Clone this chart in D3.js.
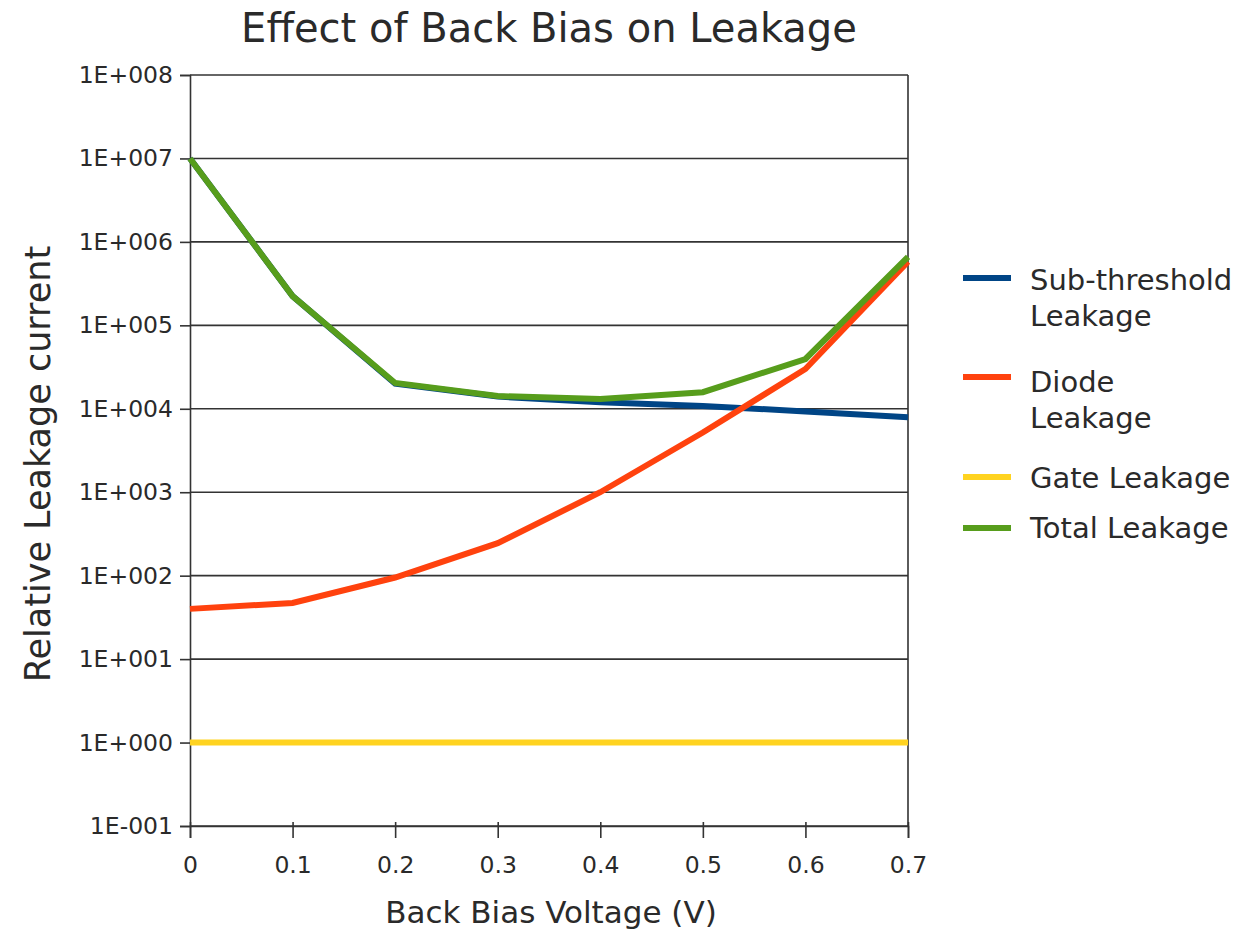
<!DOCTYPE html>
<html><head><meta charset="utf-8">
<script src="https://cdn.jsdelivr.net/npm/d3@7/dist/d3.min.js"></script>
<style>body{margin:0;background:#fff}svg{display:block;font-family:"DejaVu Sans",Verdana,sans-serif}</style>
</head><body>
<svg id="c" width="1245" height="939"></svg>
<script>
const voltages = [0, 0.1, 0.2, 0.3, 0.4, 0.5, 0.6, 0.7];
const subThreshold = [1e7, 2.24e5, 2.0e4, 1.4e4, 1.2e4, 1.08e4, 9.3e3, 7.9e3];
const diode = [40, 47, 95, 245, 1.0e3, 5.2e3, 3.0e4, 5.8e5];
const gate = [1, 1, 1, 1, 1, 1, 1, 1];
const total = [1e7, 2.24e5, 2.04e4, 1.42e4, 1.31e4, 1.58e4, 3.95e4, 6.6e5];
const seriesNames = ["Sub-threshold Leakage", "Diode Leakage", "Gate Leakage", "Total Leakage"];
const yTickValues = [1e-1, 1e0, 1e1, 1e2, 1e3, 1e4, 1e5, 1e6, 1e7, 1e8];
const yTickLabels = ["1E-001","1E+000","1E+001","1E+002","1E+003","1E+004","1E+005","1E+006","1E+007","1E+008"];
const xTickLabels = ["0","0.1","0.2","0.3","0.4","0.5","0.6","0.7"];

const colors = ["#004586", "#ff420e", "#ffd320", "#579d1c"];
const seriesData = [subThreshold, diode, gate, total];

const svg = d3.select("#c");
const L = 190, R = 908, T = 75, B = 826;
const x = d3.scaleLinear().domain([0, 0.7]).range([L, R]);
const y = d3.scaleLog().domain([1e-1, 1e8]).range([B, T]);
const ink = "#2a2a2a";

// gridlines
svg.append("g").selectAll("line").data(yTickValues).join("line")
  .attr("x1", L).attr("x2", R).attr("y1", d => y(d)).attr("y2", d => y(d))
  .attr("stroke", "#333").attr("stroke-width", 1.6);

// right border
svg.append("line").attr("x1", R).attr("x2", R).attr("y1", T).attr("y2", B)
  .attr("stroke", "#333").attr("stroke-width", 1.6);

// y axis
const yAxis = d3.axisLeft(y).tickValues(yTickValues)
  .tickFormat((d, i) => yTickLabels[i]).tickSize(10).tickPadding(7);
const gy = svg.append("g").attr("transform", `translate(${L},0)`).call(yAxis);
gy.attr("font-size", null).attr("font-family", null);
gy.select(".domain").attr("stroke", "#333").attr("stroke-width", 1.6);
gy.selectAll(".tick line").attr("stroke", "#333").attr("stroke-width", 1.6);
gy.selectAll("text").style("font-size", "23.5px").attr("fill", ink);

// x axis
const xAxis = d3.axisBottom(x).tickValues(voltages)
  .tickFormat((d, i) => xTickLabels[i]).tickSize(12).tickPadding(10);
const gx = svg.append("g").attr("transform", `translate(0,${B})`).call(xAxis);
gx.attr("font-size", null).attr("font-family", null);
gx.select(".domain").attr("stroke", "#333").attr("stroke-width", 1.6);
gx.selectAll(".tick line").attr("stroke", "#333").attr("stroke-width", 1.6).attr("y1", -4);
gx.selectAll("text").style("font-size", "23.5px").attr("fill", ink).attr("y", 47).attr("dy", 0);

// series lines
const line = d3.line().x((d, i) => x(voltages[i])).y(d => y(d));
seriesData.forEach((s, k) => {
  svg.append("path").datum(s).attr("d", line).attr("fill", "none")
    .attr("stroke", colors[k]).attr("stroke-width", 6);
});

// title
svg.append("text").attr("x", 549).attr("y", 42).attr("text-anchor", "middle")
  .style("font-size", "40px").attr("fill", ink).text("Effect of Back Bias on Leakage");

// axis titles
svg.append("text").attr("x", 551).attr("y", 923).attr("text-anchor", "middle")
  .style("font-size", "31px").attr("fill", ink).text("Back Bias Voltage (V)");
svg.append("text").attr("transform", "translate(50,464) rotate(-90)").attr("text-anchor", "middle")
  .style("font-size", "35px").attr("fill", ink).text("Relative Leakage current");

// legend
const legendRows = [
  {lines: ["Sub-threshold", "Leakage"], y: 278, base: 290},
  {lines: ["Diode", "Leakage"], y: 377, base: 392},
  {lines: ["Gate Leakage"], y: 477, base: 488},
  {lines: ["Total Leakage"], y: 528, base: 538}
];
legendRows.forEach((r, k) => {
  svg.append("line").attr("x1", 963).attr("x2", 1011).attr("y1", r.y).attr("y2", r.y)
    .attr("stroke", colors[k]).attr("stroke-width", 6);
  const t = svg.append("text").attr("x", 1030).attr("y", r.base)
    .style("font-size", "29px").attr("fill", ink);
  r.lines.forEach((ln, j) => t.append("tspan").attr("x", 1030).attr("dy", j === 0 ? 0 : 36).text(ln));
});
</script>
</body></html>
